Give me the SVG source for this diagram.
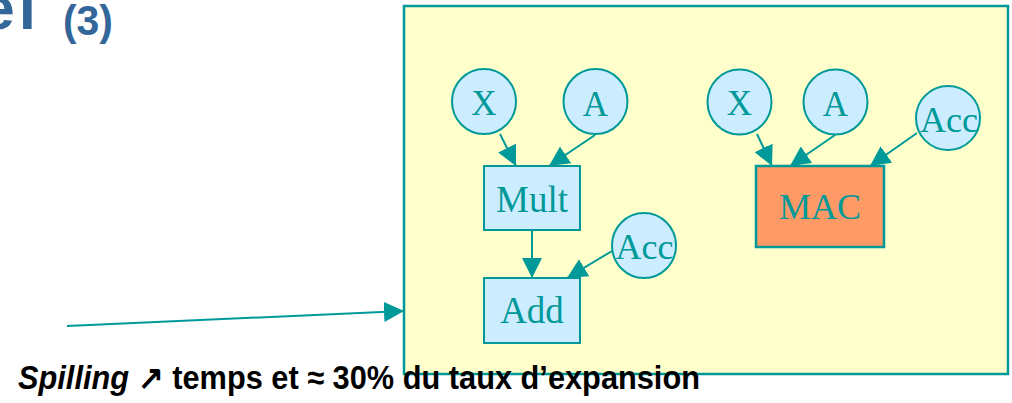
<svg xmlns="http://www.w3.org/2000/svg" width="1012" height="403" viewBox="0 0 1012 403">
  <defs>
    <marker id="head" viewBox="0 0 10 10" refX="10" refY="5" markerWidth="20" markerHeight="20" markerUnits="userSpaceOnUse" orient="auto">
      <path d="M0,0 L10,5 L0,10 z" fill="#009999"/>
    </marker>
    <style>
      .title { font-family: "Liberation Sans", Arial, sans-serif; font-weight: bold; fill: #336699; }
      .panel { fill: #FFFFCC; stroke: #009999; stroke-width: 2.5; }
      .node { fill: #CCECFF; stroke: #009999; stroke-width: 2; }
      .hot { fill: #FF9966; stroke: #009999; stroke-width: 2.5; }
      .lbl { font-family: "Liberation Serif", "Times New Roman", serif; fill: #009999; text-anchor: middle; }
      .edge { stroke: #009999; stroke-width: 2; fill: none; marker-end: url(#head); }
      .note { font-family: "Liberation Sans", Arial, sans-serif; font-weight: bold; fill: #000000; font-size: 33px; }
    </style>
  </defs>

  <!-- heading, partly off the left edge -->
  <text class="title" x="40" y="29" font-size="62" text-anchor="end" letter-spacing="4">el</text>
  <text class="title" x="63" y="35" font-size="43" textLength="50" lengthAdjust="spacingAndGlyphs">(3)</text>

  <!-- panel -->
  <rect id="panel" class="panel" x="404" y="6" width="604" height="368"/>

  <!-- connectors -->
  <g id="connectors">
    <line class="edge" x1="500" y1="134" x2="516" y2="166"/>
    <line class="edge" x1="595" y1="135" x2="549" y2="166"/>
    <line class="edge" x1="532" y1="230" x2="532" y2="278"/>
    <line class="edge" x1="612" y1="251" x2="567" y2="278"/>
    <line class="edge" x1="757" y1="134" x2="772" y2="166"/>
    <line class="edge" x1="835" y1="135" x2="790" y2="166"/>
    <line class="edge" x1="917" y1="133" x2="870" y2="166"/>
    <line class="edge" x1="67" y1="326" x2="404" y2="311"/>
  </g>

  <!-- nodes: unrolled multiply-then-add -->
  <g id="x1"><ellipse class="node" cx="484" cy="101.5" rx="32" ry="32.5"/><text class="lbl" x="484" y="115" font-size="35">X</text></g>
  <g id="a1"><ellipse class="node" cx="595.5" cy="101.5" rx="32" ry="32.5"/><text class="lbl" x="595.5" y="116" font-size="35">A</text></g>
  <g id="mult"><rect class="node" x="484" y="166" width="96" height="64"/><text class="lbl" x="532" y="212" font-size="37">Mult</text></g>
  <g id="acc1"><ellipse class="node" cx="644" cy="245.5" rx="32" ry="32.5"/><text class="lbl" x="644.5" y="259" font-size="36">Acc</text></g>
  <g id="add"><rect class="node" x="484" y="278" width="96" height="65"/><text class="lbl" x="532" y="323" font-size="37">Add</text></g>

  <!-- nodes: fused multiply-accumulate -->
  <g id="x2"><ellipse class="node" cx="739.5" cy="102" rx="32" ry="32.5"/><text class="lbl" x="739.5" y="115" font-size="35">X</text></g>
  <g id="a2"><ellipse class="node" cx="835.5" cy="102" rx="32" ry="32.5"/><text class="lbl" x="835.5" y="116" font-size="35">A</text></g>
  <g id="acc2"><ellipse class="node" cx="948" cy="118" rx="32" ry="32"/><text class="lbl" x="949" y="132" font-size="36">Acc</text></g>
  <g id="mac"><rect class="hot" x="756" y="166" width="128" height="81"/><text class="lbl" x="820" y="219" font-size="36">MAC</text></g>

  <!-- caption -->
  <text class="note" x="18" y="389" textLength="682" lengthAdjust="spacingAndGlyphs"><tspan font-style="italic">Spilling</tspan> ↗ temps et ≈ 30% du taux d’expansion</text>
</svg>
